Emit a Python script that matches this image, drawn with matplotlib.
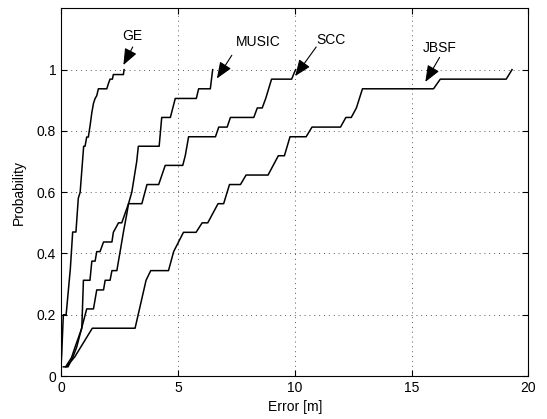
import matplotlib
matplotlib.use("Agg")
import matplotlib.pyplot as plt

plt.rcParams['font.family'] = ['Liberation Sans', 'DejaVu Sans']

# vertices of each CDF curve (error in m, probability)
ge_x = [0.0, 0.03, 0.1, 0.22, 0.4, 0.5, 0.64, 0.74, 0.82, 0.92, 0.97, 1.03, 1.1, 1.17, 1.25, 1.32,
        1.39, 1.46, 1.53, 1.6, 1.96, 2.03, 2.1, 2.2, 2.24, 2.67, 2.7]
ge_y = [0.03, 0.07, 0.2, 0.2, 0.35, 0.47, 0.47, 0.58, 0.6, 0.7, 0.75, 0.75, 0.78, 0.78, 0.82, 0.86,
        0.89, 0.906, 0.915, 0.9375, 0.9375, 0.955, 0.969, 0.969, 0.984, 0.984, 1.0]

music_x = [0.1, 0.3, 0.5, 0.67, 1.1, 1.39, 1.53, 1.82, 1.89, 2.1, 2.18, 2.39, 2.53, 2.67, 2.82, 2.89,
           3.03, 3.24, 3.31, 4.2, 4.31, 4.68, 4.89, 5.79, 5.89, 6.39, 6.49]
music_y = [0.03, 0.03, 0.06, 0.094, 0.219, 0.219, 0.281, 0.281, 0.3125, 0.3125, 0.344, 0.344, 0.406,
           0.469, 0.531, 0.5625, 0.6, 0.7, 0.75, 0.75, 0.844, 0.844, 0.906, 0.906, 0.9375, 0.9375, 1.0]

scc_x = [0.2, 0.45, 0.6, 0.89, 0.96, 1.24, 1.32, 1.46, 1.53, 1.67, 1.82, 2.18, 2.24, 2.46, 2.6, 2.89,
         3.46, 3.68, 4.18, 4.46, 5.21, 5.32, 5.46, 6.61, 6.75, 7.11, 7.25, 8.25, 8.4, 8.61, 8.76, 9.01,
         9.87, 9.97, 10.04]
scc_y = [0.03, 0.06, 0.094, 0.156, 0.3125, 0.3125, 0.375, 0.375, 0.406, 0.406, 0.4375, 0.4375, 0.469,
         0.5, 0.5, 0.5625, 0.5625, 0.625, 0.625, 0.6875, 0.6875, 0.72, 0.781, 0.781, 0.8125, 0.8125,
         0.844, 0.844, 0.875, 0.875, 0.906, 0.969, 0.969, 0.988, 1.0]

jbsf_x = [0.24, 0.59, 1.34, 3.17, 3.64, 3.84, 4.6, 4.82, 5.24, 5.78, 6.04, 6.28, 6.72, 6.96, 7.21,
          7.68, 7.92, 8.86, 9.3, 9.56, 9.8, 10.49, 10.74, 11.96, 12.19, 12.42, 12.64, 12.9, 15.94,
          16.23, 19.05, 19.3]
jbsf_y = [0.031, 0.0625, 0.156, 0.156, 0.3125, 0.344, 0.344, 0.406, 0.469, 0.469, 0.5, 0.5, 0.5625,
          0.5625, 0.625, 0.625, 0.656, 0.656, 0.719, 0.719, 0.781, 0.781, 0.8125, 0.8125, 0.844,
          0.844, 0.875, 0.9375, 0.9375, 0.969, 0.969, 1.0]

labels = ["GE", "MUSIC", "SCC", "JBSF"]
arrow_tip = [(2.67, 1.015), (6.67, 0.971), (10.02, 0.979), (15.59, 0.96)]
arrow_tail = [(3.07, 1.074), (7.31, 1.047), (10.92, 1.074), (16.2, 1.04)]
text_pos = [(3.04, 1.11), (8.44, 1.09), (11.56, 1.096), (16.19, 1.07)]

fig = plt.figure(figsize=(5.47, 4.19), dpi=100)
ax = fig.add_axes([0.1115, 0.1026, 0.8545, 0.8774])

for xs, ys in [(ge_x, ge_y), (music_x, music_y), (scc_x, scc_y), (jbsf_x, jbsf_y)]:
    ax.plot(xs, ys, color='black', lw=1.1)

for lab, tip, tail, tp in zip(labels, arrow_tip, arrow_tail, text_pos):
    ax.annotate("", xy=tip, xytext=tail,
                arrowprops=dict(arrowstyle='-|>,head_length=1.0,head_width=0.4',
                                color='black', lw=0.8, shrinkA=0, shrinkB=0))
    ax.text(tp[0], tp[1], lab, ha='center', va='center', fontsize=10)

ax.set_xlim(0, 20)
ax.set_ylim(0, 1.2)
ax.set_xticks([0, 5, 10, 15, 20])
ax.set_yticks([0, 0.2, 0.4, 0.6, 0.8, 1.0])
ax.set_yticklabels(["0", "0.2", "0.4", "0.6", "0.8", "1"])
ax.tick_params(direction='in', top=True, right=True, labelsize=10, length=4, width=0.8)
ax.grid(True, linestyle=(0, (1, 4)), color='0.35', lw=0.7)
for s in ax.spines.values():
    s.set_linewidth(0.8)
ax.set_xlabel("Error [m]", fontsize=10, labelpad=4)
ax.set_ylabel("Probability", fontsize=10, labelpad=8)

fig.savefig("out.png", dpi=100)
